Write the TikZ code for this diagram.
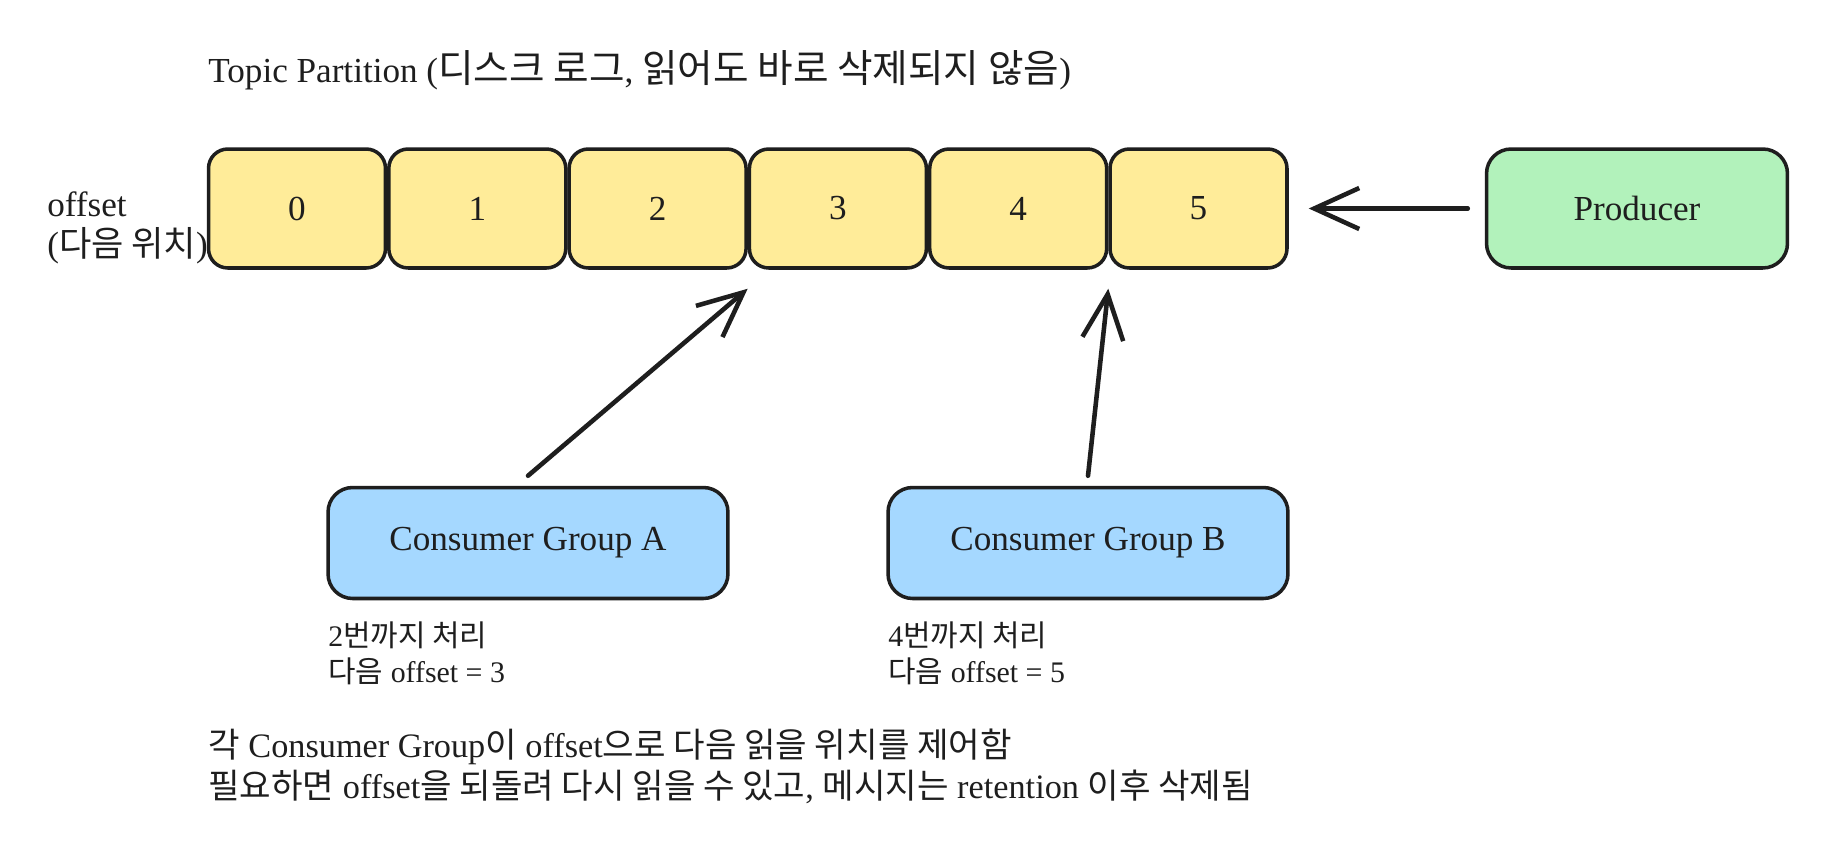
\documentclass[tikz,border=0pt]{standalone}
\usepackage{fontspec}
\setmainfont{Liberation Serif}
\newfontfamily\kr{Noto Sans CJK KR}
\usetikzlibrary{arrows.meta,positioning}
\definecolor{Ink}{HTML}{1E1E1E}
\definecolor{Butter}{HTML}{FFEC99}
\definecolor{Sky}{HTML}{A5D8FF}
\definecolor{Mint}{HTML}{B2F2BB}

\begin{document}
\begin{tikzpicture}[x=0.02cm,y=-0.02cm,
    every node/.style={font=\fontsize{20}{23}\selectfont, text=Ink},
    cell/.style={draw=Ink, line width=2pt, fill=Butter, rounded corners=11pt,
      minimum width=3.54cm, minimum height=2.38cm},
    group/.style={draw=Ink, line width=2pt, fill=Sky, rounded corners=14pt,
      minimum width=8cm, minimum height=2.22cm},
    feed/.style={draw=Ink, line width=2.6pt, line cap=round,
      -{Straight Barb[length=0.9cm,width=0.82cm]}},
    note/.style={anchor=west, align=left, inner sep=0pt}]
    \useasboundingbox[fill=white] (0,0) rectangle (1836,856);
    % partition log
    \node[note] (title) at (208,70) {Topic Partition ({\fontsize{22}{25}\selectfont\kr 디스크 로그}, {\fontsize{22}{25}\selectfont\kr 읽어도 바로 삭제되지 않음})};
    \foreach \i in {0,...,5} {
      \node[cell] (c\i) at (297+180.3*\i,208.5) {\i};
    }
    \node[note, font=\fontsize{20}{22.7}\selectfont] (offlab) at (47,228) {offset\\({\kr 다음 위치})};
    % producer side
    \node[cell, fill=Mint, rounded corners=14pt, minimum width=6.02cm] (producer) at (1637,208.5) {Producer};
    \draw[feed, shorten <=0.34cm, shorten >=0.4cm] (producer.west) -- (c5.east);
    % consumer groups
    \node[group] (groupA) at (528,543) {Consumer Group A};
    \node[group] (groupB) at (1088,543) {Consumer Group B};
    \draw[feed] ([yshift=0.2cm]groupA.north) -- ([yshift=-0.38cm]c3.south west);
    \draw[feed] ([yshift=0.2cm]groupB.north) -- ([yshift=-0.38cm]c5.south west);
    \node[note, font=\fontsize{17}{20.5}\selectfont] (doneA) at (328,653) {2{\kr 번까지 처리}\\{\kr 다음} offset = 3};
    \node[note, font=\fontsize{17}{20.5}\selectfont] (doneB) at (888,653) {4{\kr 번까지 처리}\\{\kr 다음} offset = 5};
    % footnote
    \node[note, font=\fontsize{19.5}{23.3}\selectfont] (foot) at (208,766) {{\kr 각} Consumer Group{\kr 이} offset{\kr 으로 다음 읽을 위치를 제어함}\\
      {\kr 필요하면} offset{\kr 을 되돌려 다시 읽을 수 있고}, {\kr 메시지는} retention {\kr 이후 삭제됨}};
  \end{tikzpicture}
\end{document}
